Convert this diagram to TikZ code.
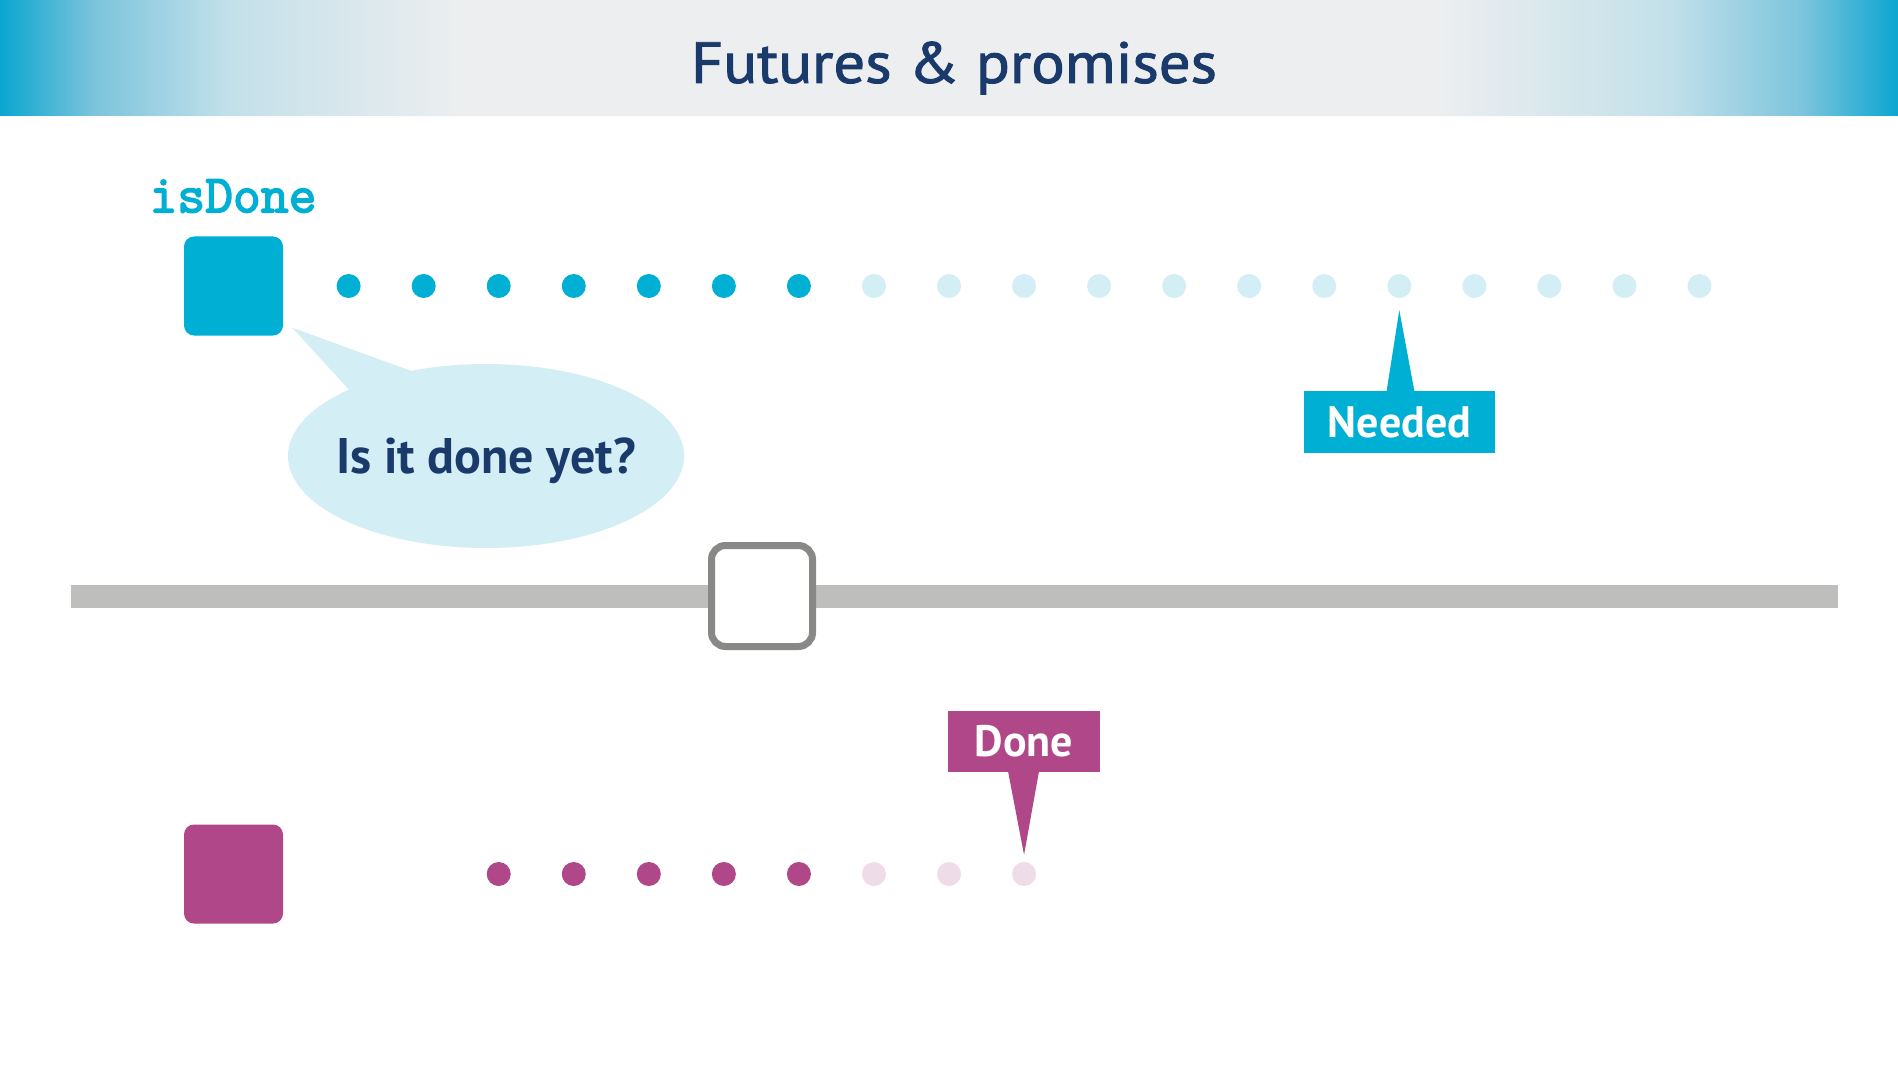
\documentclass[tikz,border=0pt]{standalone}
\usepackage{fontspec}
\setmainfont{PT Sans}
\newfontfamily\titlef{PT Sans}[FakeBold=1.6]
\newfontfamily\monob{Latin Modern Mono}[FakeBold=3]
\usetikzlibrary{shapes.geometric,calc}
\definecolor{cyanc}{HTML}{00AFD4}
\definecolor{lcyan}{HTML}{D3EEF5}
\definecolor{navy}{HTML}{1A3A6C}
\definecolor{magc}{HTML}{B04789}
\definecolor{lmag}{HTML}{EEDDE8}
\definecolor{barc}{HTML}{BEBFBC}
\definecolor{handc}{HTML}{888987}
\definecolor{hblue}{HTML}{0AA6D0}
\definecolor{hmid}{HTML}{7CC4DC}
\definecolor{hmid2}{HTML}{C2E0EA}
\definecolor{hlight}{HTML}{ECEEEF}
\pgfdeclarehorizontalshading{hdr}{100bp}{color(0bp)=(hblue); color(25bp)=(hblue); color(27.5bp)=(hmid); color(31bp)=(hmid2); color(37bp)=(hlight); color(63bp)=(hlight); color(69bp)=(hmid2); color(72.5bp)=(hmid); color(75bp)=(hblue); color(100bp)=(hblue)}
\tikzset{
  dotc/.style={circle, inner sep=0pt, minimum size=24, fill=#1},
  sq/.style={rectangle, rounded corners=10, minimum size=99, inner sep=0pt, fill=#1},
  callout/.style={rectangle, inner sep=0pt, fill=#1, text=white, font=\bfseries\fontsize{44}{48}\selectfont},
}
\begin{document}
\begin{tikzpicture}[x=1pt,y=-1pt]
\useasboundingbox (0,0) rectangle (1898,1078);
\fill[white] (0,0) rectangle (1898,1078);
% header
\shade[shading=hdr] (0,0) rectangle (1898,117);
\fill[white!85!hlight] (0,116) rectangle (1898,118);
\node[text=navy, font=\titlef\fontsize{58}{62}\selectfont] (title) at (954,68) {\scalebox{1.08}[1]{Futures \& promises}};
% isDone label
\node[text=cyanc, font=\monob\fontsize{54}{56}\selectfont] (lbl) at (233,196) {isDone};
% squares
\node[sq=cyanc] (fut) at (233.5,286) {};
\node[sq=magc] (prom) at (233.5,874) {};
% top dots
\foreach \i in {1,...,19} {
  \pgfmathsetmacro{\xx}{348.6+(\i-1)*75.05}
  \ifnum\i<8
    \node[dotc=cyanc] (t\i) at (\xx,286) {};
  \else
    \node[dotc=lcyan] (t\i) at (\xx,286) {};
  \fi
}
% bottom dots
\foreach \i in {3,...,10} {
  \pgfmathsetmacro{\xx}{348.6+(\i-1)*75.05}
  \ifnum\i<8
    \node[dotc=magc] (b\i) at (\xx,874) {};
  \else
    \node[dotc=lmag] (b\i) at (\xx,874) {};
  \fi
}
% speech bubble
\coordinate (tip) at ($(fut.south east)+(9,-8)$);
\node[ellipse, fill=lcyan, minimum width=396, minimum height=184, inner sep=0pt] (bub) at (486,456) {};
\coordinate (tb1) at ($(bub.center)+(-134,-63)$);
\coordinate (tb2) at ($(bub.center)+(-72,-84)$);
\fill[lcyan] (tip) -- (tb1) -- (tb2) -- cycle;
\node[text=navy, font=\bfseries\fontsize{50}{54}\selectfont] (bubt) at ($(bub.center)+(0,5)$) {Is it done yet?};
% slider
\node[rectangle, fill=barc, minimum width=1767, minimum height=23, inner sep=0pt] (bar) at (954.5,596.5) {};
\node[rectangle, rounded corners=14, fill=white, draw=handc, line width=7, minimum size=101, inner sep=0pt] (hand) at (762,596) {};
% Needed callout
\node[callout=cyanc, minimum width=191, minimum height=62] (need) at (1399.5,422) {Needed};
\coordinate (ntip) at ($(t15.south)+(0,12)$);
\fill[cyanc] ($(need.north)+(-13,1)$) -- (ntip) -- ($(need.north)+(15,1)$) -- cycle;
% Done callout
\node[callout=magc, minimum width=152, minimum height=61] (done) at (1024,741.5) {Done};
\coordinate (dtip) at ($(b10.north)+(0,-7)$);
\fill[magc] ($(done.south)+(-16,-1)$) -- (dtip) -- ($(done.south)+(15,-1)$) -- cycle;
\end{tikzpicture}
\end{document}
